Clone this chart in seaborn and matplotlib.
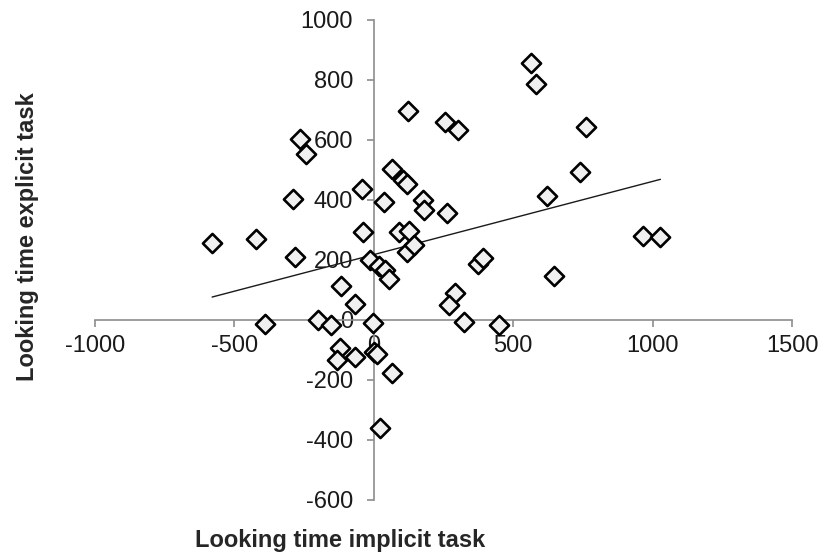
import numpy as np
import pandas as pd
import seaborn as sns
import matplotlib.pyplot as plt

# Giá trị (ms)
implicit_time = [-580, -421, -281, -290, -264, -242, -118, -69, -41, -37,
                 -13, 17, 41, 53, 38, 67, 105, 118, 124, 89,
                 125, 118, 145, 176, 181, 256, 302, 263, 374, 392,
                 292, 268, 564, 582, 762, 738, 623, 964, 1028, 647,
                 -389, -201, -155, -3, -123, -132, -66, 0, 12, 67,
                 21, 322, 449]
explicit_time = [256, 269, 209, 402, 604, 555, 113, 55, 436, 293,
                 200, 180, 168, 136, 392, 503, 467, 455, 698, 294,
                 296, 226, 250, 400, 367, 661, 632, 358, 186, 206,
                 90, 50, 858, 786, 644, 494, 414, 280, 276, 147,
                 -14, 0, -18, -10, -92, -134, -122, -108, -112, -176,
                 -361, -6, -17]

# Đường xu hướng
trend_slope = 0.244
trend_intercept = 218

x_ticks = [-1000, -500, 0, 500, 1000, 1500]
y_ticks = [-600, -400, -200, 0, 200, 400, 600, 800, 1000]

df = pd.DataFrame({"implicit": implicit_time, "explicit": explicit_time})
x_line = np.array([df["implicit"].min(), df["implicit"].max()])
trend = pd.DataFrame({"x": x_line, "y": trend_slope * x_line + trend_intercept})

sns.set_style("white")
plt.rcParams["font.family"] = ["Liberation Sans", "DejaVu Sans"]
plt.rcParams["axes.unicode_minus"] = False

fig = plt.figure(figsize=(8.24, 5.57), dpi=100)
ax = fig.add_axes([95 / 824, 1 - 500 / 557, (792 - 95) / 824, 480 / 557])

sns.lineplot(data=trend, x="x", y="y", ax=ax, color="#1a1a1a", linewidth=1.0)
sns.scatterplot(data=df, x="implicit", y="explicit", ax=ax, marker="D",
                s=95, color="#f0f0f0", edgecolor="black", linewidth=1.9, zorder=3)

ax.set_xlim(-1000, 1500)
ax.set_ylim(-600, 1000)
ax.set_xticks(x_ticks)
ax.set_yticks(y_ticks)

# Trục cắt nhau tại gốc toạ độ
ax.spines["left"].set_position(("data", 0))
ax.spines["bottom"].set_position(("data", 0))
ax.spines["right"].set_visible(False)
ax.spines["top"].set_visible(False)
for s in ["left", "bottom"]:
    ax.spines[s].set_color("#8c8c8c")
    ax.spines[s].set_linewidth(1.2)
ax.tick_params(axis="both", which="both", direction="out", length=5, width=1.2,
               color="#8c8c8c", labelsize=17, labelcolor="#1a1a1a",
               left=True, bottom=True)
ax.tick_params(axis="x", pad=6)
ax.tick_params(axis="y", pad=10)
ax.set_xlabel("")
ax.set_ylabel("")

fig.text(340 / 824, 1 - 540 / 557, "Looking time implicit task", ha="center", va="center",
         fontsize=17, fontweight="bold")
fig.text(28 / 824, 1 - 237 / 557, "Looking time explicit task", ha="center", va="center",
         rotation=90, fontsize=17, fontweight="bold")

fig.savefig("out.png", dpi=100)
